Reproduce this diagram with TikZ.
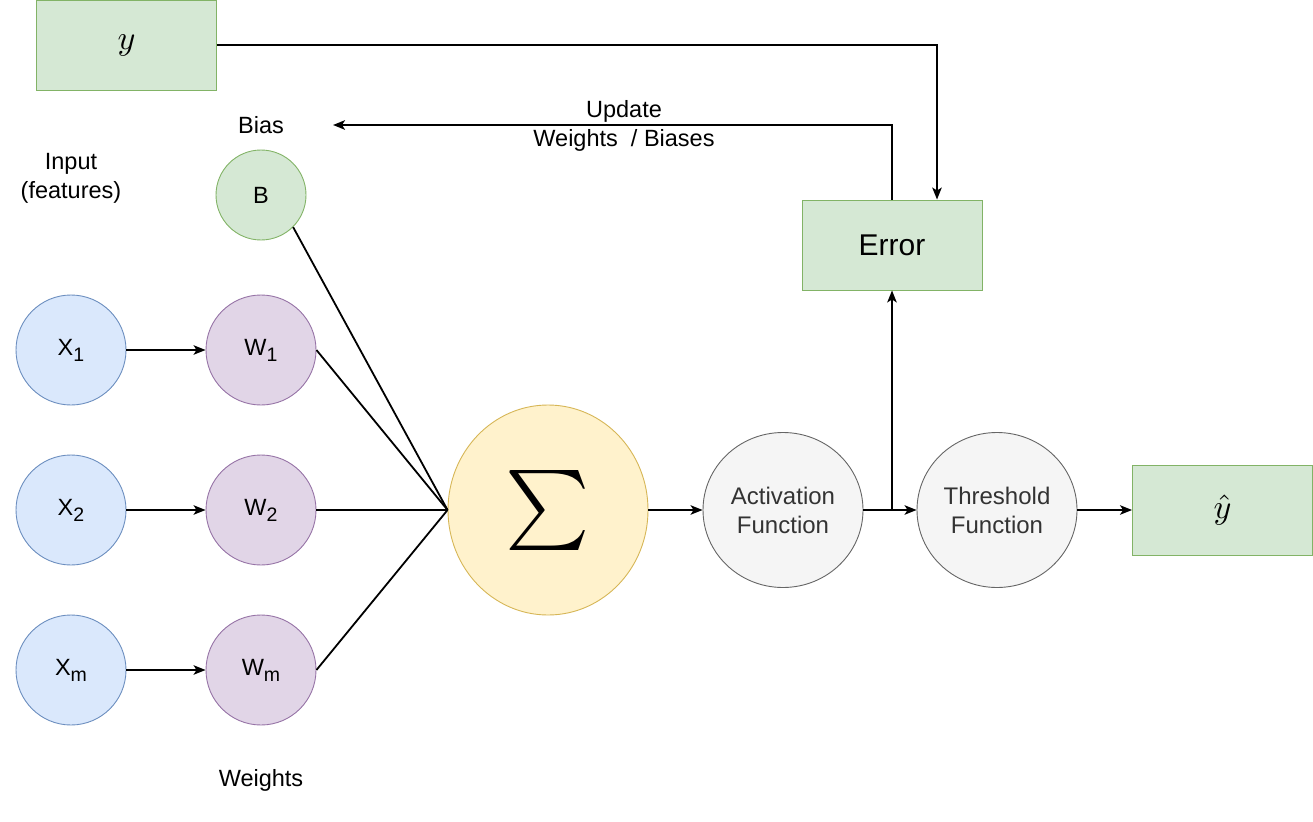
\documentclass[tikz,border=0pt]{standalone}
\usepackage{graphicx}
\usepackage{fontspec}
\setmainfont{Liberation Sans}
\usetikzlibrary{arrows.meta,shapes.geometric,calc}
\definecolor{gfill}{HTML}{D5E8D4}\definecolor{gdraw}{HTML}{82B366}
\definecolor{bfill}{HTML}{DAE8FC}\definecolor{bdraw}{HTML}{6C8EBF}
\definecolor{pfill}{HTML}{E1D5E7}\definecolor{pdraw}{HTML}{9673A6}
\definecolor{yfill}{HTML}{FFF2CC}\definecolor{ydraw}{HTML}{D6B656}
\definecolor{sfill}{HTML}{F5F5F5}\definecolor{sdraw}{HTML}{666666}
\definecolor{stext}{HTML}{333333}
\newcommand{\mysub}[1]{\raisebox{-6pt}{\fontsize{19.5}{19.5}\selectfont #1}}
\tikzset{
  txt/.style={font=\fontsize{23.5}{29}\selectfont, align=center, inner sep=0pt},
  greenbox/.style={draw=gdraw, fill=gfill, line width=0.9pt, minimum width=180pt, minimum height=90pt, inner sep=0pt},
  incircle/.style={circle, draw=bdraw, fill=bfill, line width=0.9pt, minimum size=110pt, inner sep=0pt, font=\fontsize{23.5}{26}\selectfont},
  wcircle/.style={circle, draw=pdraw, fill=pfill, line width=0.9pt, minimum size=110pt, inner sep=0pt, font=\fontsize{23.5}{26}\selectfont},
  fcircle/.style={ellipse, draw=sdraw, fill=sfill, line width=0.9pt, minimum width=160pt, minimum height=155pt, inner sep=0pt, text=stext, align=center, font=\fontsize{24}{29}\selectfont},
  conn/.style={line width=1.8pt, black},
  arr/.style={conn, -{Stealth[length=12pt,width=9.5pt,inset=3pt]}},
}
\begin{document}
\begin{tikzpicture}[x=1pt,y=-1pt]
\useasboundingbox (0,0) rectangle (1313,821);
% boxes
\node[greenbox] (ybox) at (126.5,45) {\scalebox{3.4}{$y$}};
\node[greenbox] (err) at (892,245) {\fontsize{30}{30}\selectfont Error};
\node[greenbox] (yhat) at (1222.5,510) {\scalebox{3.4}{$\hat{y}$}};
% labels
\node[txt] (bias) at (261,125) {Bias};
\node[txt] (inp) at (71,178) {Input\\(features)};
\node[txt] (wts) at (261,780) {Weights};
\node[txt] (upd) at (624,126) {Update\\Weights\ \ / Biases};
% circles
\node[circle, draw=gdraw, fill=gfill, line width=0.9pt, minimum size=90pt, inner sep=0pt, font=\fontsize{23.5}{26}\selectfont] (B) at (261,195) {B};
\node[incircle] (x1) at (71,350) {X\mysub{1}};
\node[incircle] (x2) at (71,510) {X\mysub{2}};
\node[incircle] (xm) at (71,670) {X\mysub{m}};
\node[wcircle] (w1) at (261,350) {W\mysub{1}};
\node[wcircle] (w2) at (261,510) {W\mysub{2}};
\node[wcircle] (wm) at (261,670) {W\mysub{m}};
\node[ellipse, draw=ydraw, fill=yfill, line width=0.9pt, minimum width=200pt, minimum height=210pt, inner sep=0pt] (sig) at (548,510) {\scalebox{8}{$\sum$}};
\node[fcircle] (act) at (783,510) {Activation\\Function};
\node[fcircle] (thr) at (997,510) {Threshold\\Function};
% connectors
\draw[arr] (x1) -- (w1);
\draw[arr] (x2) -- (w2);
\draw[arr] (xm) -- (wm);
\draw[conn] (B.south east) -- (sig.west);
\draw[conn] (w1.east) -- (sig.west);
\draw[conn] (w2.east) -- (sig.west);
\draw[conn] (wm.east) -- (sig.west);
\draw[arr] (sig) -- (act);
\draw[arr] (act) -- (thr);
\draw[arr] (thr) -- (yhat);
\coordinate (br) at (act.east -| err.south);
\draw[arr] (br) -- (err.south);
\coordinate (ytgt) at ($(err.north)+(45,0)$);
\draw[arr] (ybox.east) -| (ytgt);
\coordinate (updend) at (333,125);
\draw[arr] (err.north) |- (updend);
\end{tikzpicture}
\end{document}
